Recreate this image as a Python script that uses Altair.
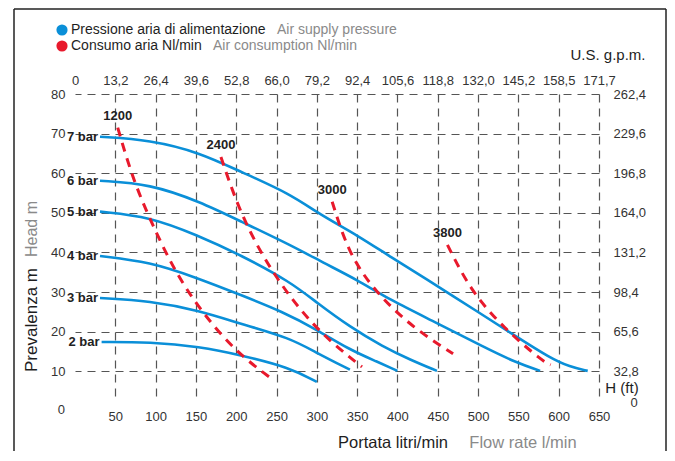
import altair as alt
import pandas as pd

# ---------------- data ----------------
# Air supply pressure curves: flow rate (l/min) vs head (m)
PRESSURE_LABELS = ["7 bar", "6 bar", "5 bar", "4 bar", "3 bar", "2 bar"]
Q_7 = [31, 93, 155, 205, 267, 304, 350, 391, 432, 502, 548, 589, 614, 636]
H_7 = [69.2, 68.4, 65.2, 60.4, 54.8, 49.5, 44.4, 38.9, 33.8, 24.7, 18.7, 13.4, 11.1, 10.1]
Q_6 = [31, 93, 155, 205, 267, 308, 350, 391, 449, 506, 548, 577]
H_6 = [58.1, 57.3, 52.8, 47.9, 41.9, 37.4, 33.1, 28.0, 22.2, 16.2, 12.1, 10.1]
Q_5 = [31, 93, 151, 205, 267, 300, 341, 382, 416, 449]
H_5 = [50.3, 49.0, 44.4, 39.4, 32.6, 27.3, 21.2, 16.2, 12.9, 10.1]
Q_4 = [31, 93, 151, 205, 258, 300, 341, 375, 400]
H_4 = [39.1, 37.6, 33.6, 29.3, 25.0, 20.5, 15.4, 12.4, 10.1]
Q_3 = [31, 93, 155, 205, 267, 300, 341]
H_3 = [28.5, 27.8, 25.3, 22.0, 18.4, 14.6, 10.4]
Q_2 = [33, 93, 155, 205, 267, 300]
H_2 = [17.4, 17.4, 16.2, 14.1, 10.9, 7.3]

# Air consumption lines (Nl/min)
CONSUMPTION_LABELS = ["1200", "2400", "3000", "3800"]
Q_1200 = [53, 72, 96, 124, 158, 201, 246]
H_1200 = [71.5, 58.3, 47.0, 35.1, 24.7, 14.6, 7.8]
Q_2400 = [181, 202, 230, 264, 306, 356]
H_2400 = [64.1, 51.5, 39.9, 29.3, 19.2, 11.1]
Q_3000 = [319, 339, 372, 419, 469]
H_3000 = [52.8, 39.9, 30.1, 21.0, 14.4]
Q_3800 = [462, 490, 531, 581, 590]
H_3800 = [41.9, 30.6, 21.0, 12.4, 11.6]

# Axis ticks / labels
BOTTOM_TICKS = [50, 100, 150, 200, 250, 300, 350, 400, 450, 500, 550, 600, 650]
LEFT_TICKS = [10, 20, 30, 40, 50, 60, 70, 80]
LEFT_ZERO = "0"
TOP_TICKS = [0, 50, 100, 150, 200, 250, 300, 350, 400, 450, 500, 550, 600, 650]
TOP_LABELS = ["0", "13,2", "26,4", "39,6", "52,8", "66,0", "79,2", "92,4",
              "105,6", "118,8", "132,0", "145,2", "158,5", "171,7"]
RIGHT_TICKS = [10, 20, 30, 40, 50, 60, 70, 80]
RIGHT_LABELS = ["32,8", "65,6", "98,4", "131,2", "164,0", "196,8", "229,6", "262,4"]

LEGEND_1 = ["Pressione aria di alimentazione", "Air supply pressure"]
LEGEND_2 = ["Consumo aria Nl/min", "Air consumption Nl/min"]
X_TITLE = ["Portata litri/min", "Flow rate l/min"]
Y_TITLE = ["Prevalenza m", "Head m"]
TOP_TITLE = "U.S. g.p.m."
RIGHT_TITLE = "H (ft)"
RIGHT_ZERO = "0"

# ---------------- tables ----------------
def long_table(names, qs, hs):
    rows = []
    for name, q, h in zip(names, qs, hs):
        for i, (a, b) in enumerate(zip(q, h)):
            rows.append({"curve": name, "Q": a, "H": b, "i": i})
    return pd.DataFrame(rows)

blue_df = long_table(PRESSURE_LABELS, [Q_7, Q_6, Q_5, Q_4, Q_3, Q_2],
                     [H_7, H_6, H_5, H_4, H_3, H_2])
red_df = long_table(CONSUMPTION_LABELS, [Q_1200, Q_2400, Q_3000, Q_3800],
                    [H_1200, H_2400, H_3000, H_3800])
blue_lab = blue_df[blue_df["i"] == 0]
red_lab = red_df[red_df["i"] == 0]

def label_expr(values, labels):
    parts = [f"datum.value == {v} ? '{l}'" for v, l in zip(values, labels)]
    return " : ".join(parts) + " : ''"

# ---------------- styles ----------------
FONT = "Liberation Sans"
BLUE = "#0a8fd8"
RED = "#e8192c"
GRAY = "#8a8a8a"
INK = "#1e1e1e"
TICK = "#333333"
XS = alt.Scale(domain=[0, 650], nice=False, zero=False)
YS = alt.Scale(domain=[3, 80], nice=False, zero=False)
W, H = 524, 305

common_axis = dict(title=None, domain=False, ticks=False, tickSize=0,
                   labelFont=FONT, labelFontSize=13, labelColor=TICK,
                   labelFlush=False, labelOverlap=False, labelBound=False)
grid_style = dict(grid=True, gridDash=[8, 6], gridColor="#555555",
                  gridWidth=1.2, gridOpacity=1)

blue = alt.Chart(blue_df).mark_line(
    color=BLUE, strokeWidth=2.6, interpolate="basis"
).encode(
    x=alt.X("Q:Q", scale=XS, axis=alt.Axis(orient="bottom", values=BOTTOM_TICKS,
                                            labelPadding=11, **common_axis, **grid_style)),
    y=alt.Y("H:Q", scale=YS, axis=alt.Axis(orient="left", values=LEFT_TICKS,
                                            labelPadding=10, grid=False, **common_axis)),
    detail="curve:N",
    order="i:Q",
)

red = alt.Chart(red_df).mark_line(
    color=RED, strokeWidth=3, strokeDash=[9, 7], interpolate="basis"
).encode(
    x=alt.X("Q:Q", scale=XS, axis=alt.Axis(orient="top", values=TOP_TICKS,
                                            labelExpr=label_expr(TOP_TICKS, TOP_LABELS),
                                            labelPadding=7, grid=False, **common_axis)),
    y=alt.Y("H:Q", scale=YS, axis=alt.Axis(orient="right", values=RIGHT_TICKS,
                                            labelExpr=label_expr(RIGHT_TICKS, RIGHT_LABELS),
                                            labelPadding=14, **common_axis, **grid_style)),
    detail="curve:N",
    order="i:Q",
)

bar_text = alt.Chart(blue_lab).mark_text(
    align="right", baseline="middle", dx=-2, font=FONT, fontSize=13,
    fontWeight="bold", color="#222222"
).encode(
    x=alt.X("Q:Q", scale=XS, axis=None),
    y=alt.Y("H:Q", scale=YS, axis=None),
    text="curve:N",
)

cons_text = alt.Chart(red_lab).mark_text(
    align="center", baseline="middle", dy=-12, font=FONT, fontSize=13,
    fontWeight="bold", color="#222222"
).encode(
    x=alt.X("Q:Q", scale=XS, axis=None),
    y=alt.Y("H:Q", scale=YS, axis=None),
    text="curve:N",
)

one = pd.DataFrame({"k": [0]})

def txt(s, x, y, size, color=INK, align="left", angle=0):
    kw = dict(align=align, baseline="middle", font=FONT, fontSize=size, color=color)
    if angle:
        kw["angle"] = angle
    return alt.Chart(one).mark_text(**kw).encode(
        x=alt.value(x), y=alt.value(y), text=alt.value(s))

def dot(color, x, y):
    return alt.Chart(one).mark_circle(size=125, color=color, opacity=1).encode(
        x=alt.value(x), y=alt.value(y))

def rule(x, y, x2, y2):
    return alt.Chart(one).mark_rule(color="#222222", strokeWidth=1.5).encode(
        x=alt.value(x), y=alt.value(y), x2=alt.value(x2), y2=alt.value(y2))

decor = [
    dot(BLUE, -13, -64), txt(LEGEND_1[0], -4, -64, 14), txt(LEGEND_1[1], 202, -64, 14, GRAY),
    dot(RED, -13, -48), txt(LEGEND_2[0], -4, -48, 14), txt(LEGEND_2[1], 138, -48, 14, GRAY),
    txt(TOP_TITLE, 533, -39, 15, align="center"),
    txt(RIGHT_TITLE, 547, 294, 15, align="center"),
    txt(RIGHT_ZERO, 559, 309, 13, TICK, align="center"),
    txt(LEFT_ZERO, -10, 316, 13, TICK, align="right"),
    txt(X_TITLE[0], 318, 349, 16.5, align="center"),
    txt(X_TITLE[1], 448, 349, 16.5, GRAY, align="center"),
    txt(Y_TITLE[0], -43, 226, 17, align="center", angle=270),
    txt(Y_TITLE[1], -43, 135, 16, GRAY, align="center", angle=270),
    rule(-61, -85, 591, -85),
    rule(-61, -85, -61, 362),
    rule(591, -85, 591, 362),
]

chart = alt.layer(blue, red, bar_text, cons_text, *decor).resolve_axis(
    x="independent", y="independent"
).properties(
    width=W, height=H,
    autosize=alt.AutoSizeParams(type="none"),
    padding={"left": 67, "top": 86, "right": 68, "bottom": 52},
    background="white",
).configure_view(strokeWidth=0)

chart.save("out.html", embed_options={"renderer": "svg", "actions": False})
